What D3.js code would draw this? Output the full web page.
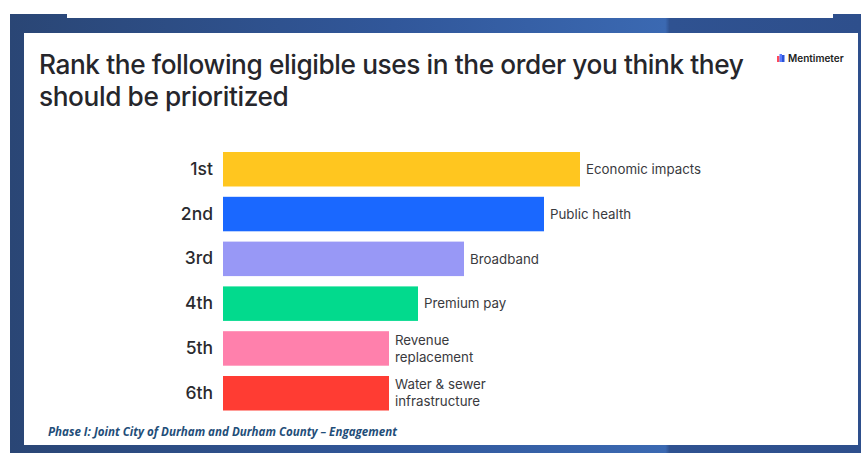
<!DOCTYPE html>
<html><head><meta charset="utf-8">
<script src="https://cdn.jsdelivr.net/npm/d3@7"></script>
<style>html,body{margin:0;padding:0;background:#fff;}svg{display:block;}</style>
</head><body>
<svg id="chart" width="861" height="453"></svg>
<script>
// ---- data ----
const ranks = ["1st", "2nd", "3rd", "4th", "5th", "6th"];
const uses = ["Economic impacts", "Public health", "Broadband", "Premium pay", "Revenue replacement", "Water & sewer infrastructure"];
const useLines = [["Economic impacts"], ["Public health"], ["Broadband"], ["Premium pay"], ["Revenue", "replacement"], ["Water & sewer", "infrastructure"]];
const scores = [357, 321, 241, 195, 166, 166];
const barColors = ["#FFC61F", "#1A68FF", "#9898F6", "#02DA8D", "#FF80AC", "#FF3C33"];
const titleLines = ["Rank the following eligible uses in the order you think they", "should be prioritized"];
const footer = "Phase I: Joint City of Durham and Durham County \u2013 Engagement";

const svg = d3.select("#chart");
const defs = svg.append("defs");
const g1 = defs.append("linearGradient").attr("id", "frameGrad").attr("x1", "0%").attr("x2", "100%").attr("y1", "0%").attr("y2", "0%");
[["0%", "#2a4675"], ["45%", "#31579a"], ["77%", "#3b69b2"], ["77.5%", "#2f5291"], ["100%", "#2e4f8c"]].forEach(([o, c]) => g1.append("stop").attr("offset", o).attr("stop-color", c));

// frame
svg.append("rect").attr("x", 10).attr("y", 14).attr("width", 851).attr("height", 439).attr("fill", "url(#frameGrad)");
svg.append("rect").attr("x", 67).attr("y", 0).attr("width", 766).attr("height", 18).attr("fill", "#ffffff");
svg.append("rect").attr("x", 24).attr("y", 33).attr("width", 834).attr("height", 412).attr("fill", "#ffffff");

// title (condensed via horizontal scale)
const titleFont = "'Inter', 'Noto Sans', sans-serif";
const title = svg.append("g");
titleLines.forEach((t, i) => {
  title.append("text").attr("x", 0).attr("y", 74 + i * 32)
    .attr("font-family", titleFont).attr("font-size", 26.5).attr("font-weight", 500).attr("fill", "#26262b")
    .attr("letter-spacing", -0.4)
    .text(t);
});
const w = title.select("text").node().getComputedTextLength();
const sx = 705 / w;
title.attr("transform", `translate(39,0) scale(${sx},1)`);

// mentimeter logo
const logo = svg.append("g").attr("transform", "translate(777,54)");
logo.append("rect").attr("x", 0).attr("y", 2).attr("width", 2.5).attr("height", 6).attr("fill", "#ff4b5c");
logo.append("rect").attr("x", 2.5).attr("y", 0).attr("width", 2.5).attr("height", 8).attr("fill", "#5b7cff");
logo.append("rect").attr("x", 5).attr("y", 1).attr("width", 2.5).attr("height", 7).attr("fill", "#2b54d8");
logo.append("text").attr("x", 11).attr("y", 8).attr("font-family", "'Inter', sans-serif").attr("font-size", 10).attr("font-weight", 600).attr("fill", "#222").text("Mentimeter");

// scales
const x = d3.scaleLinear().domain([0, d3.max(scores)]).range([223, 580]);
const y = d3.scaleBand().domain(ranks).range([152, 410.5]).paddingInner(0.23).paddingOuter(0);

// bars
svg.append("g").selectAll("rect").data(scores).join("rect")
  .attr("x", x(0)).attr("y", (d, i) => y(ranks[i]))
  .attr("width", d => x(d) - x(0)).attr("height", y.bandwidth())
  .attr("fill", (d, i) => barColors[i]);

// rank labels
const yAxis = d3.axisLeft(y).tickSize(0).tickPadding(10);
const ya = svg.append("g").attr("transform", `translate(${x(0)},0)`).call(yAxis);
ya.select(".domain").remove();
ya.selectAll("text").attr("font-family", "'Inter', 'Noto Sans', sans-serif").attr("font-size", 17.5).attr("font-weight", 500).attr("fill", "#2a2a2e");

// value labels
const vl = svg.append("g");
useLines.forEach((lines, i) => {
  const cy = y(ranks[i]) + y.bandwidth() / 2;
  const lh = 17;
  const t = vl.append("text").attr("x", x(scores[i]) + 6)
    .attr("font-family", "'Inter', 'Noto Sans', sans-serif").attr("font-size", 13.3).attr("fill", "#3a3a3e");
  lines.forEach((ln, j) => {
    t.append("tspan").attr("x", x(scores[i]) + 6)
      .attr("y", cy + (j - (lines.length - 1) / 2) * lh)
      .attr("dy", "0.35em").text(ln);
  });
});

// footer
const ft = svg.append("text").attr("x", 48).attr("y", 436)
  .attr("font-family", "'Open Sans', 'Liberation Sans', sans-serif").attr("font-size", 10.5)
  .attr("font-weight", 700).attr("font-style", "italic").attr("fill", "#1f4e79").text(footer);
const fw = ft.node().getComputedTextLength();
ft.attr("font-size", 10.5 * 349 / fw);
</script>
</body></html>
